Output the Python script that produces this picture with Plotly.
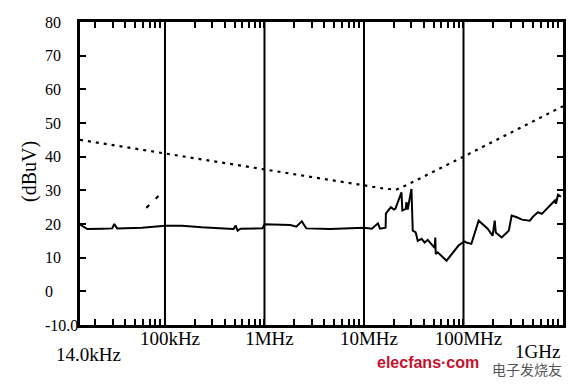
import numpy as np
import plotly.graph_objects as go

# ---- data ----
meas_freq = [14.0e3, 16.6e3, 23.4e3, 29.5e3, 30.9e3, 33.1e3, 58.9e3, 89e3, 100e3, 148e3, 234e3,
             437e3, 490e3, 513e3, 537e3, 575e3, 955e3, 1.0e6, 1.44e6, 1.82e6, 2.09e6, 2.37e6,
             2.63e6, 4.57e6, 10.0e6, 12.0e6, 13.8e6, 14.5e6, 16.5e6, 16.6e6, 18.6e6, 20.0e6,
             20.7e6, 23.8e6, 24.3e6, 26.3e6, 26.7e6, 27.5e6, 30.0e6, 30.2e6, 30.9e6, 33.1e6,
             34.7e6, 38.0e6, 40.7e6, 43.7e6, 47.9e6, 51.3e6, 52.1e6, 52.6e6, 55.0e6, 67.6e6,
             89.1e6, 100e6, 102e6, 107e6, 120e6, 142e6, 175e6, 196e6, 206e6, 211e6, 242e6,
             285e6, 305e6, 343e6, 387e6, 464e6, 500e6, 560e6, 613e6, 740e6, 830e6, 850e6,
             890e6, 955e6]
meas_level = [19.8, 18.5, 18.6, 18.7, 20.0, 18.7, 18.9, 19.2, 19.5, 19.5, 19.0,
              18.6, 18.5, 19.6, 18.0, 18.6, 18.7, 19.9, 19.8, 19.7, 19.2, 20.8,
              18.7, 18.5, 18.9, 18.6, 20.2, 18.6, 18.9, 23.1, 25.0, 24.3,
              24.6, 29.4, 24.0, 24.5, 26.5, 24.3, 30.4, 23.8, 18.0, 17.5,
              15.0, 15.6, 14.5, 15.3, 13.8, 12.9, 16.0, 11.1, 11.6, 9.1,
              13.6, 14.5, 14.8, 14.5, 14.1, 21.0, 18.6, 16.5, 21.0, 17.5, 16.0,
              18.0, 22.5, 22.0, 21.3, 21.0, 22.2, 23.5, 23.0, 25.5, 27.0, 26.0,
              28.7, 28.1]

limit_freq = [14.0e3, 10.0e6, 16e6, 21e6, 27e6, 100e6, 1.0e9]
limit_level = [45.0, 31.4, 30.5, 30.2, 31.6, 40.0, 55.0]

frag_freq = [65e3, 100e3]
frag_level = [24.8, 30.2]

decade_freqs = [1e5, 1e6, 1e7, 1e8]
decade_labels = ["100kHz", "1MHz", "10MHz", "100MHz"]
y_ticks = [-10, 0, 10, 20, 30, 40, 50, 60, 70, 80]
y_labels = ["-10.0", "0", "10", "20", "30", "40", "50", "60", "70", "80"]

FONT = "Liberation Serif"

fig = go.Figure()
fig.add_trace(go.Scatter(x=limit_freq, y=limit_level, mode="lines",
                         line=dict(color="black", width=2.2, dash="3px,5px"),
                         hoverinfo="skip", showlegend=False))
fig.add_trace(go.Scatter(x=frag_freq, y=frag_level, mode="lines",
                         line=dict(color="black", width=2.2, dash="4px,9px"),
                         hoverinfo="skip", showlegend=False))
fig.add_trace(go.Scatter(x=meas_freq, y=meas_level, mode="lines",
                         line=dict(color="black", width=2),
                         showlegend=False))

# minor tick positions (1..9 x each decade)
minor_vals = []
for d in range(4, 9):
    for m in range(1, 10):
        v = m * 10 ** d
        if 14e3 < v <= 1e9:
            minor_vals.append(v)
tick_text = [decade_labels[decade_freqs.index(v)] if v in decade_freqs else "" for v in minor_vals]

fig.update_xaxes(type="log", range=[np.log10(14e3), 9.0], automargin=False,
                 tickvals=minor_vals, ticktext=tick_text,
                 ticks="inside", ticklen=6, tickwidth=2, tickcolor="black",
                 ticklabelstandoff=-6, ticklabelshift=5,
                 showgrid=False, zeroline=False,
                 showline=True, linecolor="black", linewidth=2.5, mirror="ticks",
                 tickfont=dict(family=FONT, size=19, color="black"))
fig.update_yaxes(range=[-10, 80], tickvals=y_ticks, automargin=False,
                 showticklabels=False,
                 ticks="inside", ticklen=6, tickwidth=2, tickcolor="black",
                 showgrid=False, zeroline=False,
                 showline=True, linecolor="black", linewidth=2.5, mirror="ticks")

# left-aligned y tick labels (as in the reference)
for v, t in zip(y_ticks, y_labels):
    fig.add_annotation(xref="paper", yref="y", x=-0.0766, y=v, text=t,
                       showarrow=False, xanchor="left", yanchor="middle",
                       font=dict(family=FONT, size=16, color="black"))

for v in decade_freqs:
    fig.add_shape(type="line", xref="x", yref="paper", x0=v, x1=v, y0=0, y1=1,
                  line=dict(color="black", width=2))

fig.add_annotation(xref="paper", yref="paper", x=-0.1035, y=0.505, text="(dBuV)",
                   textangle=-90, showarrow=False, xanchor="center", yanchor="middle",
                   font=dict(family=FONT, size=20, color="black"))
fig.add_annotation(xref="paper", yref="paper", x=0.0176, y=-0.099, text="14.0kHz",
                   showarrow=False, yanchor="middle", xanchor="center",
                   font=dict(family=FONT, size=19, color="black"))
fig.add_annotation(xref="paper", yref="paper", x=0.948, y=-0.089, text="1GHz",
                   showarrow=False, yanchor="middle", xanchor="center",
                   font=dict(family=FONT, size=19, color="black"))
fig.add_annotation(xref="paper", yref="paper", x=0.7215, y=-0.125, text="<b>elecfans·com</b>",
                   showarrow=False, yanchor="middle", xanchor="center",
                   font=dict(family="Liberation Sans", size=16, color="#c8102e"))
fig.add_annotation(xref="paper", yref="paper", x=0.925, y=-0.146, text="电子发烧友",
                   showarrow=False, yanchor="middle", xanchor="center",
                   font=dict(family="Noto Sans CJK SC", size=14, color="#555555"))

# page body adds an 8px margin, so the figure is sized to fit the window
fig.update_layout(width=572, height=376,
                  margin=dict(l=72, r=17, t=14, b=59),
                  paper_bgcolor="white", plot_bgcolor="white")
fig.write_html("out.html")
